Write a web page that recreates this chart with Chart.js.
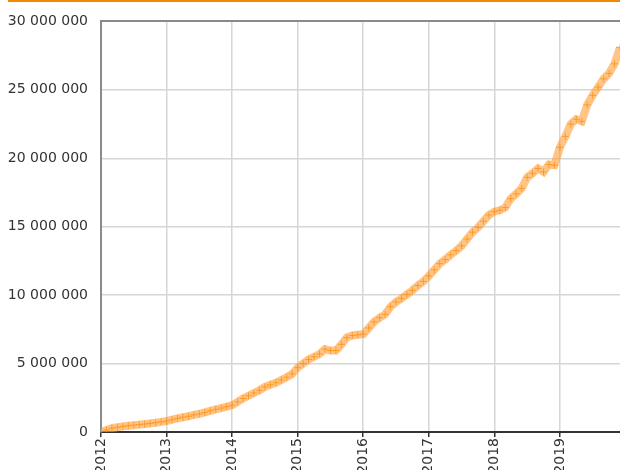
<!DOCTYPE html>
<html>
<head>
<meta charset="utf-8">
<script src="https://cdn.jsdelivr.net/npm/chart.js@4/dist/chart.umd.min.js"></script>
<style>
  html, body { margin: 0; padding: 0; background: #fff; overflow: hidden; }
  #wrap { position: relative; width: 620px; height: 470px; }
  #topbar { position: absolute; left: 8px; top: 0; width: 612px; height: 2px; background: #F28A00; }
  canvas { position: absolute; left: 0; top: 0; }
</style>
</head>
<body>
<div id="wrap">
  <div id="topbar"></div>
  <canvas id="c" width="620" height="470"></canvas>
</div>
<script>
// Monthly cumulative values, Jan 2012 .. Dec 2019
const startYear = 2012;
const values2012 = [0, 150000, 280000, 350000, 410000, 460000, 500000, 540000, 580000, 630000, 680000, 740000];
const values2013 = [800000, 900000, 1000000, 1080000, 1150000, 1250000, 1330000, 1430000, 1550000, 1650000, 1750000, 1850000];
const values2014 = [1960000, 2200000, 2450000, 2650000, 2850000, 3050000, 3300000, 3450000, 3600000, 3800000, 4000000, 4250000];
const values2015 = [4700000, 5000000, 5300000, 5500000, 5700000, 6050000, 5950000, 5950000, 6400000, 6900000, 7050000, 7100000];
const values2016 = [7150000, 7600000, 8050000, 8350000, 8600000, 9150000, 9500000, 9750000, 10050000, 10350000, 10700000, 11000000];
const values2017 = [11400000, 11850000, 12300000, 12600000, 12950000, 13250000, 13600000, 14100000, 14600000, 14950000, 15400000, 15850000];
const values2018 = [16100000, 16200000, 16400000, 17050000, 17400000, 17800000, 18600000, 18900000, 19250000, 19000000, 19550000, 19500000];
const values2019 = [20800000, 21600000, 22500000, 22850000, 22700000, 23900000, 24600000, 25200000, 25800000, 26200000, 26900000, 28100000];
const yearTicks = ['2012', '2013', '2014', '2015', '2016', '2017', '2018', '2019'];
const yTickStep = 5000000;
const yMax = 30000000;

const allYears = [values2012, values2013, values2014, values2015, values2016, values2017, values2018, values2019];
const points = [];
allYears.forEach((arr, yi) => {
  arr.forEach((v, m) => points.push({ x: startYear + yi + m / 12, y: v }));
});
const xMax = points[points.length - 1].x;

function fmt(v) {
  return String(Math.round(v)).replace(/\B(?=(\d{3})+(?!\d))/g, ' ');
}

const FONT = { family: '"DejaVu Sans", sans-serif', size: 14 };

new Chart(document.getElementById('c'), {
  type: 'line',
  data: {
    datasets: [{
      data: points,
      borderColor: 'rgba(255, 160, 60, 0.62)',
      borderWidth: 8,
      tension: 0,
      fill: false,
      pointStyle: 'cross',
      pointRadius: 3.5,
      pointBorderWidth: 1,
      pointBorderColor: 'rgba(255, 140, 0, 0.7)',
      pointBackgroundColor: 'rgba(255, 140, 0, 0.7)',
      pointHoverRadius: 3.5
    }]
  },
  options: {
    responsive: false,
    animation: false,
    events: [],
    layout: { autoPadding: false, padding: { top: 18, left: 0, right: 0, bottom: 0 } },
    plugins: { legend: { display: false }, tooltip: { enabled: false } },
    scales: {
      x: {
        type: 'linear',
        min: startYear,
        max: xMax,
        afterFit: (s) => { s.height = 38; },
        border: { color: '#333', width: 2 },
        grid: {
          color: '#d6d6d6',
          lineWidth: 1.5,
          drawTicks: true,
          tickLength: 5,
          tickColor: '#333'
        },
        ticks: {
          stepSize: 1,
          includeBounds: false,
          autoSkip: false,
          maxRotation: 90,
          minRotation: 90,
          padding: 1,
          color: '#333',
          font: FONT,
          callback: (v) => yearTicks[Math.round(v) - startYear] !== undefined && Math.abs(v - Math.round(v)) < 1e-6 ? yearTicks[Math.round(v) - startYear] : ''
        }
      },
      y: {
        min: 0,
        max: yMax,
        afterFit: (s) => { s.width = 101; },
        border: { color: '#8a8a8a', width: 2 },
        grid: {
          color: (ctx) => (ctx.tick && ctx.tick.value === yMax) ? '#8a8a8a' : '#d6d6d6',
          lineWidth: (ctx) => (ctx.tick && ctx.tick.value === yMax) ? 2 : 1.5,
          drawTicks: false
        },
        ticks: {
          stepSize: yTickStep,
          padding: 13,
          color: '#333',
          font: FONT,
          callback: (v) => fmt(v)
        }
      }
    }
  }
});
</script>
</body>
</html>
